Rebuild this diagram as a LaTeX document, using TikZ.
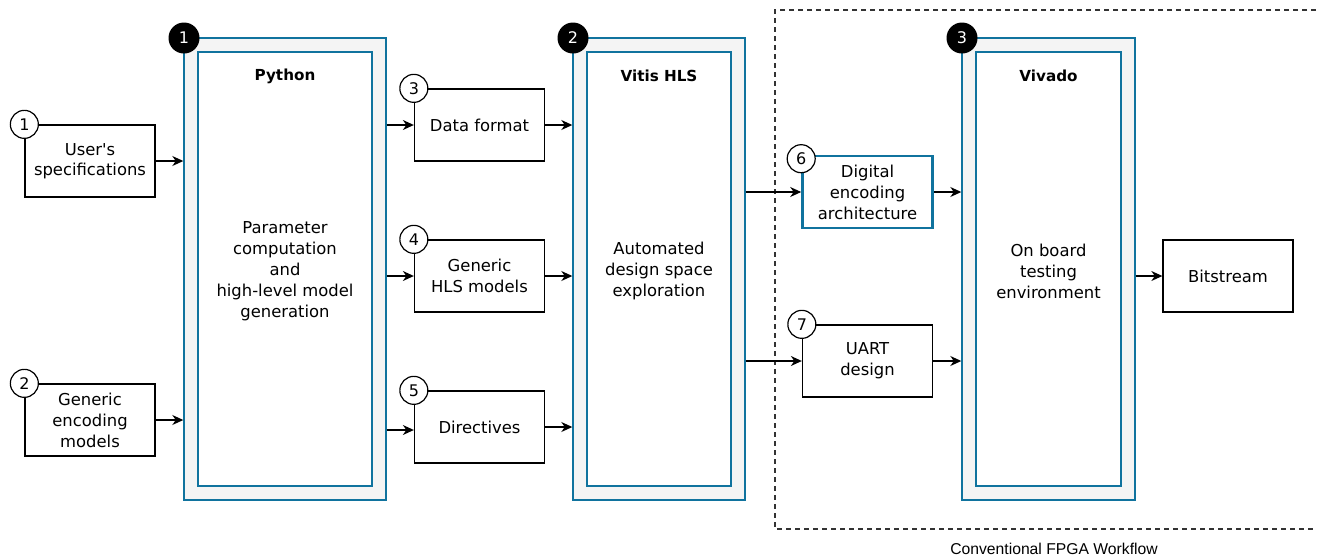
\documentclass[tikz,border=0pt]{standalone}
\usepackage{fontspec}
\setmainfont{DejaVu Sans}
\newfontfamily\arialfont{Liberation Sans}
\usetikzlibrary{arrows.meta}
\definecolor{dioblue}{HTML}{10739E}
\definecolor{diogray}{HTML}{F4F4F4}
\definecolor{dashgray}{HTML}{333333}
\newcommand\dfont{\fontsize{16.4}{21}\selectfont}
\newcommand\tfont{\fontsize{15.2}{18}\selectfont\bfseries}
\newcommand\bfontnum{\fontsize{16}{18}\selectfont}
\tikzset{
  stepbox/.style={draw=black, line width=1.3pt, fill=white, minimum width=130, minimum height=72, align=center, inner sep=0pt, font=\dfont},
  outerbox/.style={draw=dioblue, line width=1.4pt, fill=diogray, inner sep=0pt},
  innerbox/.style={draw=dioblue, line width=1.4pt, fill=white, inner sep=0pt},
  wbadge/.style={circle, draw=black, line width=1.2pt, fill=white, minimum size=28, inner sep=0pt, font=\bfontnum},
  kbadge/.style={circle, fill=black, text=white, minimum size=31, inner sep=0pt, font=\bfontnum},
  arr/.style={-{Stealth[length=11pt,width=10pt,inset=3.5pt]}, line width=1.3pt, black},
  title/.style={font=\tfont, inner sep=0pt},
  body/.style={font=\dfont, align=center, inner sep=0pt},
}
\begin{document}
\begin{tikzpicture}[x=1pt,y=-1pt]
\useasboundingbox (0,0) rectangle (1317,555);
% dashed region
\draw[dashgray, line width=1.3pt, dash pattern=on 5pt off 4pt] (1325,10) -- (775,10) -- (775,529) -- (1325,529);
\node[font=\arialfont\fontsize{15.7}{18}\selectfont, anchor=base, inner sep=0pt] (cfw) at (1054,554) {Conventional FPGA Workflow};

% containers
\node[outerbox, minimum width=202, minimum height=462] (py) at (285,269) {};
\node[innerbox, minimum width=174, minimum height=434] (pyi) at (285,269) {};
\node[title] (pyt) at (285,76) {Python};
\node[body] (pyb) at (285,271) {Parameter\\computation\\and\\high-level model\\generation};
\node[kbadge] (k1) at (184,38) {1};

\node[outerbox, minimum width=172, minimum height=462] (vh) at (659,269) {};
\node[innerbox, minimum width=144, minimum height=434] (vhi) at (659,269) {};
\node[title] (vht) at (659,76) {Vitis HLS};
\node[body] (vhb) at (659,271) {Automated\\design space\\exploration};
\node[kbadge] (k2) at (573,38) {2};

\node[outerbox, minimum width=173, minimum height=462] (vv) at (1048.5,269) {};
\node[innerbox, minimum width=145, minimum height=434] (vvi) at (1048.5,269) {};
\node[title] (vvt) at (1048.5,76) {Vivado};
\node[body] (vvb) at (1048.5,271) {On board\\testing\\environment};
\node[kbadge] (k3) at (962,38) {3};

% step boxes
\node[stepbox] (us) at (90,161) {\raisebox{-2pt}{\begin{tabular}{@{}c@{}}User\textquotesingle s\\[-1pt]specifications\end{tabular}}};
\node[wbadge] (b1) at (us.north west) {1};
\node[stepbox] (ge) at (90,420) {Generic\\encoding\\models};
\node[wbadge] (b2) at (ge.north west) {2};
\node[stepbox] (df) at (479.5,125) {Data format};
\node[wbadge] (b3) at (df.north west) {3};
\node[stepbox] (gh) at (479.5,276) {Generic\\HLS models};
\node[wbadge] (b4) at (gh.north west) {4};
\node[stepbox] (di) at (479.5,427) {Directives};
\node[wbadge] (b5) at (di.north west) {5};
\node[stepbox, draw=dioblue, line width=2.6pt] (de) at (867.5,192) {Digital\\encoding\\architecture};
\node[wbadge] (b6) at ([yshift=-4]de.north west) {6};
\node[stepbox] (ua) at (867.5,361) {UART\\design};
\node[wbadge] (b7) at (ua.north west) {7};
\node[stepbox] (bs) at (1228,276) {Bitstream};

% connectors
\draw[arr] (us.east) -- (us.east -| py.west);
\draw[arr] (ge.east) -- (ge.east -| py.west);
\draw[arr] (df.west -| py.east) -- (df.west);
\draw[arr] (gh.west -| py.east) -- (gh.west);
\draw[arr] ([yshift=-3]di.west -| py.east) -- ([yshift=-3]di.west);
\draw[arr] (df.east) -- (df.east -| vh.west);
\draw[arr] (gh.east) -- (gh.east -| vh.west);
\draw[arr] (di.east) -- (di.east -| vh.west);
\draw[arr] (de.west -| vh.east) -- (de.west);
\draw[arr] (ua.west -| vh.east) -- (ua.west);
\draw[arr] (de.east) -- (de.east -| vv.west);
\draw[arr] (ua.east) -- (ua.east -| vv.west);
\draw[arr] (bs.west -| vv.east) -- (bs.west);
\end{tikzpicture}
\end{document}
